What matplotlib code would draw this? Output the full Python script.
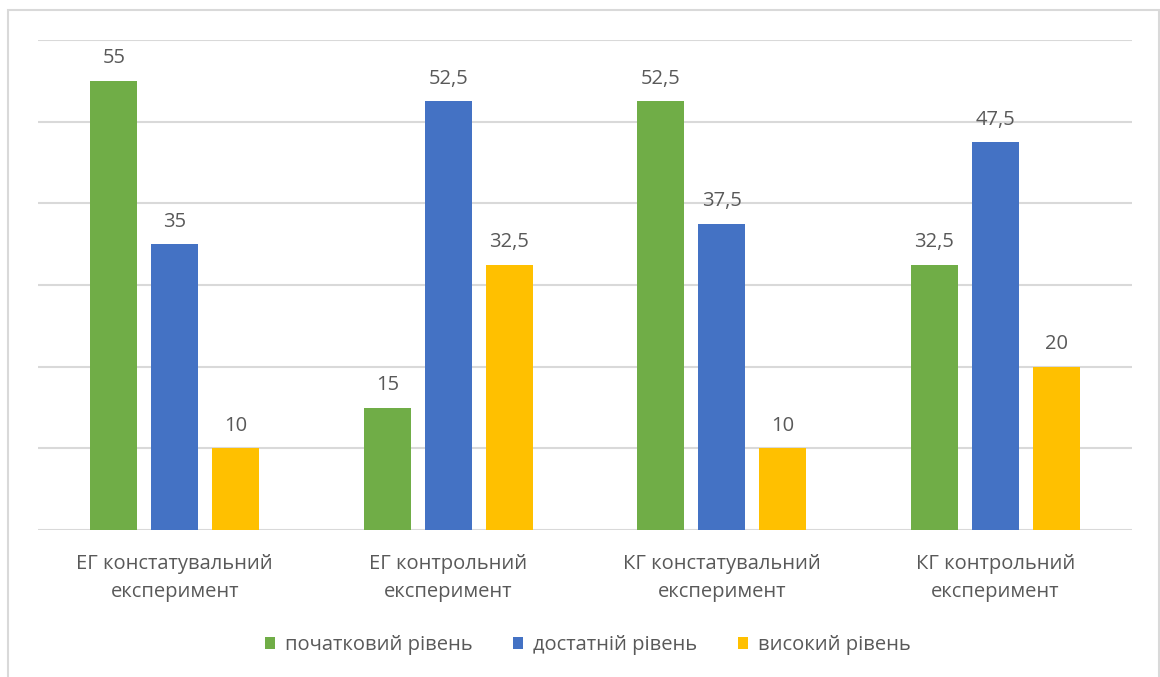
import matplotlib
matplotlib.use("Agg")
import matplotlib.pyplot as plt
import numpy as np
from matplotlib.patches import Rectangle

plt.rcParams['font.family'] = ['Open Sans', 'DejaVu Sans']

categories = ["ЕГ констатувальний\nексперимент", "ЕГ контрольний\nексперимент",
              "КГ констатувальний\nексперимент", "КГ контрольний\nексперимент"]
series_names = ["початковий рівень", "достатній рівень", "високий рівень"]
initial = [55, 15, 52.5, 32.5]
sufficient = [35, 52.5, 37.5, 47.5]
high = [10, 32.5, 10, 20]
series = [initial, sufficient, high]
colors = ["#70AD47", "#4472C4", "#FFC000"]
text_color = "#595959"
FS = 14.5

W, H = 1160, 677
fig = plt.figure(figsize=(W / 100, H / 100), dpi=100)
ax = fig.add_axes([38 / W, 1 - 530 / H, (1132 - 38) / W, (530 - 40) / H])

x = np.arange(len(categories))
bw = 0.172
offs = [-0.223, 0, 0.223]

def fmt(v):
    s = f"{v:g}"
    return s.replace(".", ",")

for vals, off, c, name in zip(series, offs, colors, series_names):
    bars = ax.bar(x + off, vals, width=bw, color=c, label=name, zorder=3)
    for b, v in zip(bars, vals):
        ax.annotate(fmt(v), (b.get_x() + b.get_width() / 2, v), xytext=(0, 9),
                    textcoords="offset points", ha="center", va="bottom",
                    fontsize=FS, color=text_color)

ax.set_xlim(-0.5, 3.5)
ax.set_ylim(0, 60)
ax.set_yticks(np.arange(0, 61, 10))
ax.yaxis.grid(True, color="#D9D9D9", linewidth=1.5, zorder=0)
ax.set_yticklabels([])
ax.tick_params(axis='y', length=0)
ax.tick_params(axis='x', length=0, pad=17)
ax.set_xticks(x)
ax.set_xticklabels(categories, fontsize=FS, color=text_color, linespacing=1.55)
for s in ["top", "right", "left", "bottom"]:
    ax.spines[s].set_visible(False)

leg = fig.legend(loc="center", bbox_to_anchor=(588 / W, 1 - 645 / H), ncol=3,
                 frameon=False, fontsize=FS, handlelength=0.5, handleheight=0.5,
                 handletextpad=0.5, columnspacing=2.0, labelcolor=text_color)

fig.patches.append(Rectangle((8 / W, -0.1), (1159 - 8) / W, 1.1 - 10 / H,
                             transform=fig.transFigure, fill=False,
                             edgecolor="#D9D9D9", linewidth=1.5))

fig.savefig("out.png", dpi=100, facecolor="white")
